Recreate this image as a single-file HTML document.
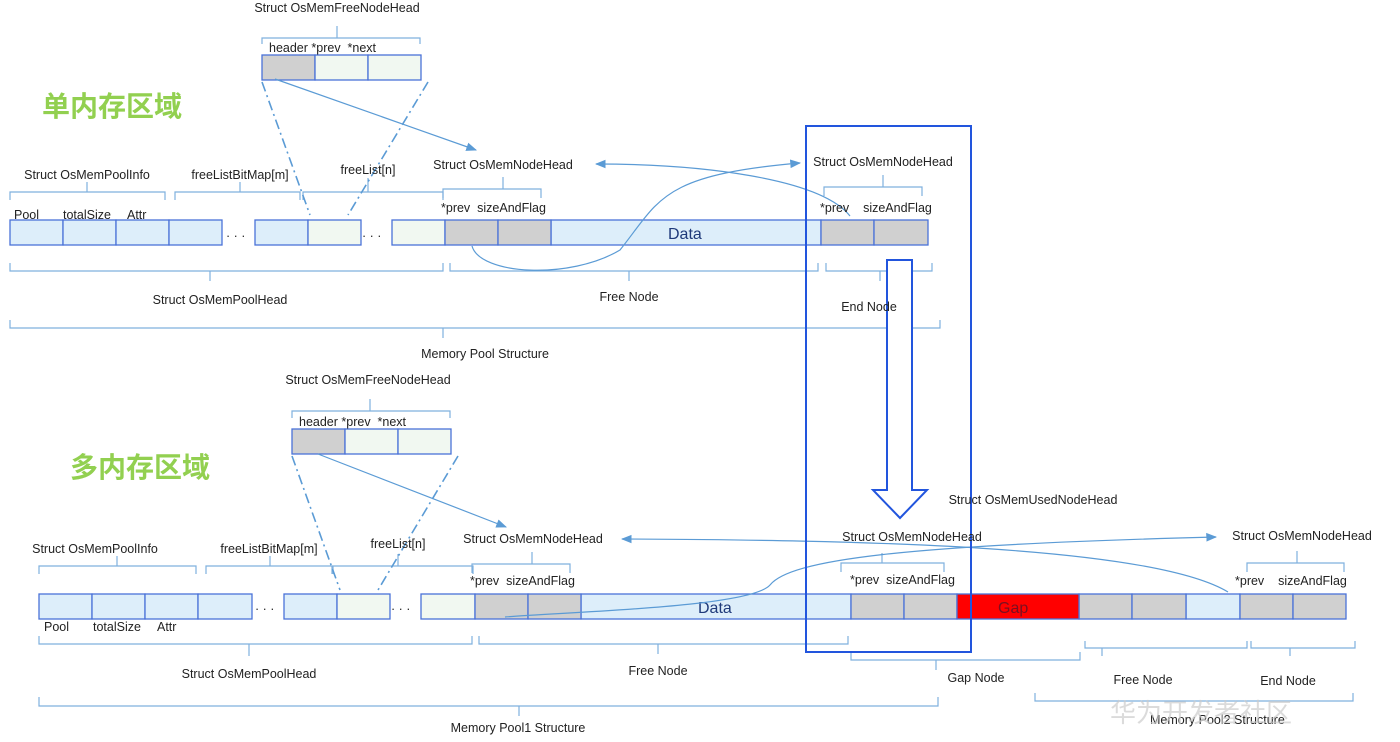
<!DOCTYPE html>
<html><head><meta charset="utf-8"><style>
html,body{margin:0;padding:0;background:#fff;width:1400px;height:742px;overflow:hidden}
svg text{font-family:"Liberation Sans","Noto Sans CJK SC",sans-serif;font-size:12.5px;fill:#222}
</style></head><body>
<svg width="1400" height="742" viewBox="0 0 1400 742" xmlns="http://www.w3.org/2000/svg">
<defs>
<marker id="ah" viewBox="0 0 10 10" refX="9" refY="5" markerWidth="9" markerHeight="9" orient="auto-start-reverse"><path d="M0,1 L10,5 L0,9 z" fill="#5b9bd5"/></marker>
</defs>
<g stroke="#4a72d8" stroke-width="1.3">
<!-- TOP row cells -->
<g fill="#ddeefa">
<rect x="10" y="220" width="53" height="25"/><rect x="63" y="220" width="53" height="25"/><rect x="116" y="220" width="53" height="25"/><rect x="169" y="220" width="53" height="25"/>
<rect x="255" y="220" width="53" height="25"/>
<rect x="551" y="220" width="270" height="25"/>
</g>
<g fill="#f1f8f1"><rect x="308" y="220" width="53" height="25"/><rect x="392" y="220" width="53" height="25"/></g>
<g fill="#d0d0d0"><rect x="445" y="220" width="53" height="25"/><rect x="498" y="220" width="53" height="25"/><rect x="821" y="220" width="53" height="25"/><rect x="874" y="220" width="54" height="25"/></g>
<!-- top free node head -->
<rect x="262" y="55" width="53" height="25" fill="#d0d0d0"/><rect x="315" y="55" width="53" height="25" fill="#f1f8f1"/><rect x="368" y="55" width="53" height="25" fill="#f1f8f1"/>
<!-- BOTTOM row -->
<g fill="#ddeefa">
<rect x="39" y="594" width="53" height="25"/><rect x="92" y="594" width="53" height="25"/><rect x="145" y="594" width="53" height="25"/><rect x="198" y="594" width="54" height="25"/>
<rect x="284" y="594" width="53" height="25"/>
<rect x="581" y="594" width="270" height="25"/>
<rect x="1186" y="594" width="54" height="25"/>
</g>
<g fill="#f1f8f1"><rect x="337" y="594" width="53" height="25"/><rect x="421" y="594" width="54" height="25"/></g>
<g fill="#d0d0d0"><rect x="475" y="594" width="53" height="25"/><rect x="528" y="594" width="53" height="25"/><rect x="851" y="594" width="53" height="25"/><rect x="904" y="594" width="53" height="25"/>
<rect x="1079" y="594" width="53" height="25"/><rect x="1132" y="594" width="54" height="25"/><rect x="1240" y="594" width="53" height="25"/><rect x="1293" y="594" width="53" height="25"/></g>
<rect x="957" y="594" width="122" height="25" fill="#ff0000"/>
<rect x="292" y="429" width="53" height="25" fill="#d0d0d0"/><rect x="345" y="429" width="53" height="25" fill="#f1f8f1"/><rect x="398" y="429" width="53" height="25" fill="#f1f8f1"/>
</g>
<!-- dots -->
<g fill="#222"><text x="226" y="240" font-size="16">· · ·</text><text x="362" y="240" font-size="16">· · ·</text>
<text x="255" y="613" font-size="16">· · ·</text><text x="391" y="613" font-size="16">· · ·</text></g>
<text x="668" y="239" style="font-size:16px;fill:#1f3a7a">Data</text>
<text x="698" y="613" style="font-size:16px;fill:#1f3a7a">Data</text>
<text x="998" y="613" style="font-size:16px;fill:#7a1020">Gap</text>
<!-- braces -->
<g fill="none" stroke="#7fb0de" stroke-width="1.2">
<path d="M262,44 v-6 h158 v6 M337,38 v-12"/>
<path d="M10,200 v-8 h155 v8 M87,192 v-10"/>
<path d="M175,200 v-8 h125 v8 M240,192 v-10"/>
<path d="M303,200 v-8 h140 v8 M368,192 v-14"/>
<path d="M443,198 v-9 h98 v9 M503,189 v-12"/>
<path d="M824,196 v-9 h98 v9 M883,187 v-12"/>
<path d="M10,263 v8 h433 v-8 M210,271 v10"/>
<path d="M450,263 v8 h368 v-8 M629,271 v10"/>
<path d="M826,263 v8 h106 v-8 M880,271 v10"/>
<path d="M10,320 v8 h930 v-8 M443,328 v10"/>
<path d="M292,418 v-7 h158 v7 M370,411 v-12"/>
<path d="M39,574 v-8 h157 v8 M117,566 v-10"/>
<path d="M206,574 v-8 h126 v8 M270,566 v-10"/>
<path d="M333,574 v-8 h140 v8 M398,566 v-12"/>
<path d="M472,573 v-9 h98 v9 M532,564 v-12"/>
<path d="M841,572 v-9 h103 v9 M882,563 v-10"/>
<path d="M1247,572 v-9 h97 v9 M1297,563 v-12"/>
<path d="M39,636 v8 h433 v-8 M249,644 v12"/>
<path d="M479,636 v8 h369 v-8 M658,644 v10"/>
<path d="M851,652 v8 h229 v-8 M936,660 v10"/>
<path d="M1085,641 v7 h162 v-7 M1102,648 v8"/>
<path d="M1251,641 v7 h104 v-7 M1290,648 v8"/>
<path d="M39,697 v9 h899 v-9 M519,706 v10"/>
<path d="M1035,693 v8 h318 v-8"/>
</g>
<!-- dash-dot -->
<g stroke="#5b9bd5" stroke-width="1.6" stroke-dasharray="10,4,2,4" fill="none">
<line x1="262" y1="82" x2="310" y2="215"/><line x1="428" y1="82" x2="348" y2="215"/>
<line x1="292" y1="456" x2="340" y2="590"/><line x1="458" y1="456" x2="378" y2="590"/>
</g>
<!-- arrows -->
<g stroke="#5b9bd5" stroke-width="1.2" fill="none">
<line x1="275" y1="79" x2="476" y2="150" marker-end="url(#ah)"/>
<path d="M596,164 C700,164 820,178 850,216" marker-start="url(#ah)"/>
<path d="M472,246 C480,275 570,280 620,250 C660,200 660,175 800,163" marker-end="url(#ah)"/>
<line x1="318" y1="454" x2="506" y2="527" marker-end="url(#ah)"/>
<path d="M622,539 C850,540 1150,545 1228,592" marker-start="url(#ah)"/>
<path d="M505,617 C560,612 750,608 770,585 C790,560 900,545 1216,537" marker-end="url(#ah)"/>
</g>
<!-- blue frame & hollow arrow -->
<rect x="806" y="126" width="165" height="526" fill="none" stroke="#2255dd" stroke-width="2"/>
<path d="M887,260 H912 V490 H927 L900,518 L873,490 H887 Z" fill="#fff" stroke="#2255dd" stroke-width="2"/>
<!-- headings -->
<text x="42" y="116" style="font-size:28px;font-weight:bold;fill:#92d050">单内存区域</text>
<text x="70" y="477" style="font-size:28px;font-weight:bold;fill:#92d050">多内存区域</text>
<!-- labels top -->
<text x="337" y="12" text-anchor="middle">Struct OsMemFreeNodeHead</text>
<text x="269" y="52">header *prev&#160;&#160;*next</text>
<text x="87" y="179" text-anchor="middle">Struct OsMemPoolInfo</text>
<text x="240" y="179" text-anchor="middle">freeListBitMap[m]</text>
<text x="368" y="174" text-anchor="middle">freeList[n]</text>
<text x="503" y="169" text-anchor="middle">Struct OsMemNodeHead</text>
<text x="883" y="166" text-anchor="middle">Struct OsMemNodeHead</text>
<text x="14" y="219">Pool</text><text x="63" y="219">totalSize</text><text x="127" y="219">Attr</text>
<text x="441" y="212">*prev&#160;&#160;sizeAndFlag</text>
<text x="820" y="212">*prev&#160;&#160;&#160;&#160;sizeAndFlag</text>
<text x="220" y="304" text-anchor="middle">Struct OsMemPoolHead</text>
<text x="629" y="301" text-anchor="middle">Free Node</text>
<text x="869" y="311" text-anchor="middle">End Node</text>
<text x="485" y="358" text-anchor="middle">Memory Pool Structure</text>
<!-- labels bottom -->
<text x="368" y="384" text-anchor="middle">Struct OsMemFreeNodeHead</text>
<text x="299" y="426">header *prev&#160;&#160;*next</text>
<text x="95" y="553" text-anchor="middle">Struct OsMemPoolInfo</text>
<text x="269" y="553" text-anchor="middle">freeListBitMap[m]</text>
<text x="398" y="548" text-anchor="middle">freeList[n]</text>
<text x="533" y="543" text-anchor="middle">Struct OsMemNodeHead</text>
<text x="1033" y="504" text-anchor="middle">Struct OsMemUsedNodeHead</text>
<text x="912" y="541" text-anchor="middle">Struct OsMemNodeHead</text>
<text x="1302" y="540" text-anchor="middle">Struct OsMemNodeHead</text>
<text x="470" y="585">*prev&#160;&#160;sizeAndFlag</text>
<text x="850" y="584">*prev&#160;&#160;sizeAndFlag</text>
<text x="1235" y="585">*prev&#160;&#160;&#160;&#160;sizeAndFlag</text>
<text x="44" y="631">Pool</text><text x="93" y="631">totalSize</text><text x="157" y="631">Attr</text>
<text x="249" y="678" text-anchor="middle">Struct OsMemPoolHead</text>
<text x="658" y="675" text-anchor="middle">Free Node</text>
<text x="976" y="682" text-anchor="middle">Gap Node</text>
<text x="1143" y="684" text-anchor="middle">Free Node</text>
<text x="1288" y="685" text-anchor="middle">End Node</text>
<text x="518" y="732" text-anchor="middle">Memory Pool1 Structure</text>
<text x="1150" y="724">Memory Pool2 Structure</text>
<text x="1110" y="722" style="font-size:26px;fill:#ccc;opacity:0.7">华为开发者社区</text>
</svg>
</body></html>
